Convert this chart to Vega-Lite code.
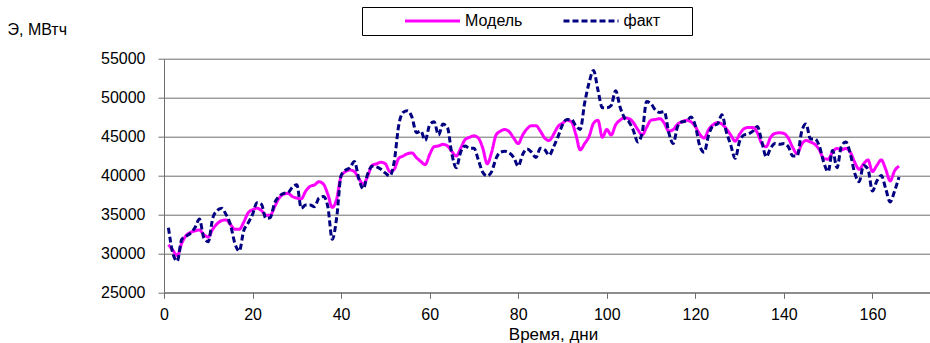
{
  "$schema": "https://vega.github.io/schema/vega-lite/v6.json",
  "width": 766,
  "height": 233.6,
  "autosize": {"type": "none"},
  "padding": {"left": 164, "top": 58.7, "right": 0, "bottom": 50.7},
  "background": "white",
  "config": {
    "view": {"stroke": null},
    "font": "Liberation Sans",
    "axis": {"labelFont": "Liberation Sans", "titleFont": "Liberation Sans", "labelColor": "black", "titleColor": "black", "domainColor": "#6e6e6e", "tickColor": "#6e6e6e", "gridColor": "#6e6e6e", "titleFontWeight": "normal"},
    "legend": {"labelFont": "Liberation Sans", "titleFont": "Liberation Sans"}
  },
  "data": {"values": [
    {"day":1,"Модель":31100,"факт":33300},{"day":2,"Модель":30400,"факт":30000},{"day":3,"Модель":29700,"факт":29000},{"day":4,"Модель":31300,"факт":31800},{"day":5,"Модель":32300,"факт":32200},
    {"day":6,"Модель":32700,"факт":32600},{"day":7,"Модель":32900,"факт":33300},{"day":8,"Модель":33000,"факт":34400},{"day":9,"Модель":32400,"факт":32000},{"day":10,"Модель":32100,"факт":31500},
    {"day":11,"Модель":33100,"факт":34500},{"day":12,"Модель":33800,"факт":35500},{"day":13,"Модель":34200,"факт":35800},{"day":14,"Модель":34300,"факт":35000},{"day":15,"Модель":33700,"факт":33700},
    {"day":16,"Модель":33100,"факт":31300},{"day":17,"Модель":33100,"факт":30300},{"day":18,"Модель":34000,"факт":32900},{"day":19,"Модель":35200,"факт":33900},{"day":20,"Модель":35600,"факт":35000},
    {"day":21,"Модель":35800,"факт":36500},{"day":22,"Модель":35500,"факт":36300},{"day":23,"Модель":34900,"факт":34500},{"day":24,"Модель":34900,"факт":34600},{"day":25,"Модель":36000,"факт":36500},
    {"day":26,"Модель":37100,"факт":37300},{"day":27,"Модель":37600,"факт":37700},{"day":28,"Модель":37700,"факт":37800},{"day":29,"Модель":37300,"факт":38500},{"day":30,"Модель":37100,"факт":38800},
    {"day":31,"Модель":37000,"факт":35800},{"day":32,"Модель":38000,"факт":36200},{"day":33,"Модель":38600,"факт":36200},{"day":34,"Модель":38800,"факт":36000},{"day":35,"Модель":39200,"факт":37100},
    {"day":36,"Модель":38900,"факт":37300},{"day":37,"Модель":37600,"факт":36000},{"day":38,"Модель":35900,"факт":31800},{"day":39,"Модель":37000,"факт":34600},{"day":40,"Модель":39900,"факт":40000},
    {"day":41,"Модель":40500,"факт":40700},{"day":42,"Модель":40700,"факт":41000},{"day":43,"Модель":40500,"факт":41800},{"day":44,"Модель":39600,"факт":39600},{"day":45,"Модель":38900,"факт":38300},
    {"day":46,"Модель":39900,"факт":40200},{"day":47,"Модель":41300,"факт":41200},{"day":48,"Модель":41500,"факт":41100},{"day":49,"Модель":41700,"факт":40800},{"day":50,"Модель":41500,"факт":40300},
    {"day":51,"Модель":40500,"факт":39950},{"day":52,"Модель":40800,"факт":41800},{"day":53,"Модель":42200,"факт":46400},{"day":54,"Модель":42500,"факт":48100},{"day":55,"Модель":42800,"факт":48300},
    {"day":56,"Модель":42900,"факт":47500},{"day":57,"Модель":42300,"факт":45500},{"day":58,"Модель":41800,"факт":45700},{"day":59,"Модель":41400,"факт":44500},{"day":60,"Модель":42700,"факт":46500},
    {"day":61,"Модель":43700,"факт":46900},{"day":62,"Модель":43800,"факт":45200},{"day":63,"Модель":44000,"факт":46600},{"day":64,"Модель":43800,"факт":46200},{"day":65,"Модель":43100,"факт":42800},
    {"day":66,"Модель":42500,"факт":41000},{"day":67,"Модель":43500,"факт":43000},{"day":68,"Модель":44600,"факт":43800},{"day":69,"Модель":44900,"факт":43500},{"day":70,"Модель":45100,"факт":43500},
    {"day":71,"Модель":44800,"факт":42000},{"day":72,"Модель":43500,"факт":40400},{"day":73,"Модель":41500,"факт":39950},{"day":74,"Модель":43000,"факт":40500},{"day":75,"Модель":45200,"факт":42200},
    {"day":76,"Модель":45700,"факт":43000},{"day":77,"Модель":45900,"факт":43100},{"day":78,"Модель":45600,"факт":42900},{"day":79,"Модель":44800,"факт":42300},{"day":80,"Модель":44100,"факт":41200},
    {"day":81,"Модель":45200,"факт":42700},{"day":82,"Модель":46000,"факт":43400},{"day":83,"Модель":46400,"факт":43000},{"day":84,"Модель":46400,"факт":42300},{"day":85,"Модель":45700,"факт":43500},
    {"day":86,"Модель":44800,"факт":43300},{"day":87,"Модель":44500,"факт":42600},{"day":88,"Модель":45300,"факт":43700},{"day":89,"Модель":46300,"факт":45000},{"day":90,"Модель":46700,"факт":46500},
    {"day":91,"Модель":47100,"факт":47200},{"day":92,"Модель":46900,"факт":47200},{"day":93,"Модель":45300,"факт":46400},{"day":94,"Модель":43300,"факт":45900},{"day":95,"Модель":44100,"факт":49300},
    {"day":96,"Модель":45000,"факт":51900},{"day":97,"Модель":46700,"факт":53500},{"day":98,"Модель":47100,"факт":51000},{"day":99,"Модель":44900,"факт":48700},{"day":100,"Модель":45900,"факт":48700},
    {"day":101,"Модель":45200,"факт":49000},{"day":102,"Модель":46500,"факт":50900},{"day":103,"Модель":47100,"факт":48800},{"day":104,"Модель":47400,"факт":47400},{"day":105,"Модель":47300,"факт":46900},
    {"day":106,"Модель":46800,"факт":45800},{"day":107,"Модель":45900,"факт":44300},{"day":108,"Модель":45200,"факт":45500},{"day":109,"Модель":46200,"факт":49500},{"day":110,"Модель":47100,"факт":49200},
    {"day":111,"Модель":47200,"факт":48400},{"day":112,"Модель":47300,"факт":48100},{"day":113,"Модель":46700,"факт":48200},{"day":114,"Модель":45700,"факт":45500},{"day":115,"Модель":45900,"факт":44100},
    {"day":116,"Модель":46600,"факт":46300},{"day":117,"Модель":46900,"факт":46900},{"day":118,"Модель":47100,"факт":47000},{"day":119,"Модель":46900,"факт":47500},{"day":120,"Модель":46300,"факт":46400},
    {"day":121,"Модель":45300,"факт":43800},{"day":122,"Модель":44800,"факт":43000},{"day":123,"Модель":45900,"факт":45200},{"day":124,"Модель":46500,"факт":46400},{"day":125,"Модель":46800,"факт":46600},
    {"day":126,"Модель":46600,"факт":47800},{"day":127,"Модель":46000,"факт":45600},{"day":128,"Модель":45200,"факт":43900},{"day":129,"Модель":44400,"факт":42200},{"day":130,"Модель":45300,"факт":44400},
    {"day":131,"Модель":46000,"факт":45200},{"day":132,"Модель":46170,"факт":45350},{"day":133,"Модель":46170,"факт":45700},{"day":134,"Модель":45500,"факт":46300},{"day":135,"Модель":44100,"факт":44400},
    {"day":136,"Модель":43700,"факт":42400},{"day":137,"Модель":44900,"факт":43500},{"day":138,"Модель":45400,"факт":44100},{"day":139,"Модель":45480,"факт":44000},{"day":140,"Модель":45400,"факт":44100},
    {"day":141,"Модель":44800,"факт":43700},{"day":142,"Модель":43600,"факт":42500},{"day":143,"Модель":42800,"факт":42500},{"day":144,"Модель":44000,"факт":45600},{"day":145,"Модель":44500,"факт":46600},
    {"day":146,"Модель":44300,"факт":44700},{"day":147,"Модель":44000,"факт":44700},{"day":148,"Модель":43300,"факт":43800},{"day":149,"Модель":42200,"факт":41700},{"day":150,"Модель":42100,"факт":40500},
    {"day":151,"Модель":43000,"факт":43200},{"day":152,"Модель":43480,"факт":41000},{"day":153,"Модель":43300,"факт":43800},{"day":154,"Модель":43480,"факт":44300},{"day":155,"Модель":43000,"факт":42800},
    {"day":156,"Модель":41700,"факт":40300},{"day":157,"Модель":40800,"факт":39200},{"day":158,"Модель":41500,"факт":41300},{"day":159,"Модель":42000,"факт":40800},{"day":160,"Модель":40500,"факт":38000},
    {"day":161,"Модель":41300,"факт":39300},{"day":162,"Модель":42000,"факт":40000},{"day":163,"Модель":40800,"факт":38300},{"day":164,"Модель":39300,"факт":36600},{"day":165,"Модель":40600,"факт":38000},
    {"day":166,"Модель":41200,"факт":39800}
  ]},
  "transform": [{"fold": ["Модель", "факт"], "as": ["series", "value"]}],
  "mark": {"type": "line", "interpolate": "monotone", "strokeWidth": 3, "strokeCap": "butt"},
  "encoding": {
    "x": {
      "field": "day", "type": "quantitative",
      "scale": {"domain": [0, 173], "nice": false, "zero": false},
      "axis": {
        "values": [0, 20, 40, 60, 80, 100, 120, 140, 160],
        "grid": false, "tickSize": 6, "labelPadding": 8, "labelFontSize": 16,
        "labelFlush": false,
        "title": "Время, дни", "titleFontSize": 17, "titleX": 389, "titleY": 47, "titleAlign": "center", "titleBaseline": "alphabetic"
      }
    },
    "y": {
      "field": "value", "type": "quantitative",
      "scale": {"domain": [25000, 55000], "nice": false, "zero": false},
      "axis": {
        "values": [25000, 30000, 35000, 40000, 45000, 50000, 55000],
        "format": "d", "grid": true, "tickSize": 6, "labelPadding": 13, "labelFontSize": 16,
        "title": "Э, МВтч", "titleAngle": 0, "titleFontSize": 16, "titleX": -157, "titleY": -29,
        "titleAlign": "left", "titleBaseline": "middle"
      }
    },
    "color": {
      "field": "series", "type": "nominal",
      "scale": {"domain": ["Модель", "факт"], "range": ["#FF00FF", "#000080"]},
      "legend": {
        "title": " ", "titleOrient": "right", "titlePadding": 26, "titleFontSize": 16,
        "orient": "none", "legendX": 198, "legendY": -51.7, "direction": "horizontal",
        "strokeColor": "black", "padding": 6, "symbolType": "M-5,0H5", "symbolSize": 121, "symbolStrokeWidth": 3,
        "symbolOffset": 56.5, "labelFontSize": 16, "labelColor": "black", "columnPadding": 3.5, "labelOffset": 24.5
      }
    },
    "strokeDash": {
      "field": "series", "type": "nominal",
      "scale": {"domain": ["Модель", "факт"], "range": [[1, 0], [6, 3]]},
      "legend": {
        "title": " ", "titleOrient": "right", "titlePadding": 26, "titleFontSize": 16,
        "orient": "none", "legendX": 198, "legendY": -51.7, "direction": "horizontal",
        "strokeColor": "black", "padding": 6, "symbolType": "M-5,0H5", "symbolSize": 121, "symbolStrokeWidth": 3,
        "symbolOffset": 56.5, "labelFontSize": 16, "labelColor": "black", "columnPadding": 3.5, "labelOffset": 24.5
      }
    }
  }
}
